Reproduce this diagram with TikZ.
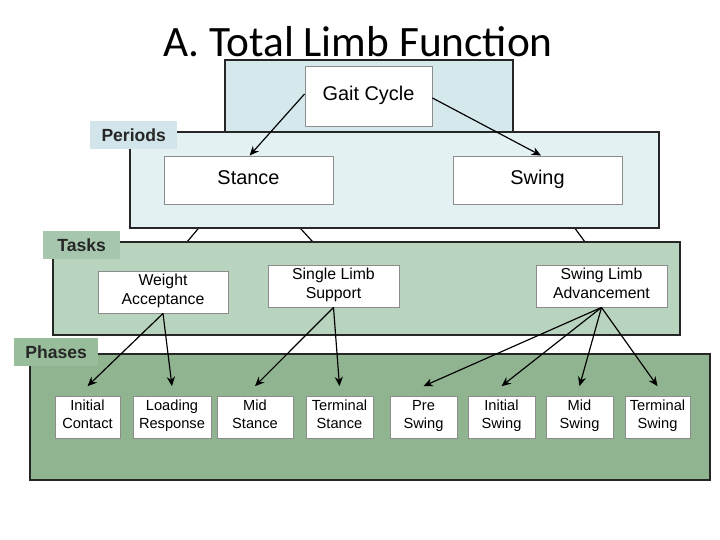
\documentclass[tikz,border=0pt]{standalone}
\usepackage{fontspec}
\setmainfont{Liberation Sans}
\newfontfamily\titlefont{Carlito}
\usetikzlibrary{arrows.meta}
\definecolor{topfill}{HTML}{D5E8EC}
\definecolor{perfill}{HTML}{E3F1F3}
\definecolor{perlab}{HTML}{D2E5EB}
\definecolor{taskfill}{HTML}{B8D3BE}
\definecolor{tasklab}{HTML}{A6C7AE}
\definecolor{phasefill}{HTML}{8FB48F}
\definecolor{phaselab}{HTML}{98BD9A}
\begin{document}
\begin{tikzpicture}[x=0.03cm,y=-0.03cm,
  panel/.style={draw=black!85,line width=1.6pt},
  tag/.style={font=\fontsize{15}{15}\selectfont\bfseries,text=black!85,inner sep=3pt,anchor=west},
  box/.style={draw=black!45,fill=white,line width=0.8pt,align=center,inner sep=0pt},
  two/.style={execute at begin node=\strut,execute at end node=\strut},
  big/.style={box,font=\fontsize{17}{17}\selectfont,text height=12pt,text depth=4pt},
  mid/.style={box,two,font=\fontsize{13.5}{16}\selectfont},
  small/.style={box,two,font=\fontsize{12.5}{15}\selectfont,minimum height=42*0.03cm},
  arr/.style={-{Stealth[length=8pt,width=7pt]},line width=1pt}]
\useasboundingbox (0,0) rectangle (720,540);
\node[font=\titlefont\fontsize{37}{37}\selectfont] (title) at (358,42) {A. Total Limb Function};
% nodes defined first (as placeholders for lines drawn under the panels)
\path
 (368.5,96) node[big,minimum width=127*0.03cm,minimum height=60*0.03cm] (gc) {}
 (248.5,180) node[big,minimum width=169*0.03cm,minimum height=48*0.03cm] (st) {}
 (537.5,180) node[big,minimum width=169*0.03cm,minimum height=48*0.03cm] (sw) {}
 (163,292) node[mid,minimum width=130*0.03cm,minimum height=42*0.03cm] (wa) {}
 (333.5,286) node[mid,minimum width=131*0.03cm,minimum height=42*0.03cm] (sls) {}
 (601.5,286) node[mid,minimum width=131*0.03cm,minimum height=42*0.03cm] (sla) {};
% hidden links between periods and tasks
\draw[line width=1pt] (st.south) ++(-30,0) coordinate (a1) -- (wa.north);
\draw[line width=1pt] (st.south) ++(30,0) coordinate (a2) -- (sls.north);
\draw[line width=1pt] (sw.south) ++(20,0) coordinate (a3) -- (sla.north);
% panels
\draw[panel,fill=phasefill] (30,354) rectangle (710,480);
\draw[panel,fill=taskfill] (53,242) rectangle (680,335);
\draw[panel,fill=perfill] (130,132) rectangle (659,228);
\draw[panel,fill=topfill] (225,60) rectangle (513,132);
\node[tag,fill=perlab,minimum width=87*0.03cm,minimum height=28*0.03cm] (lper) at (90,135) {Periods};
\node[tag,fill=tasklab,minimum width=77*0.03cm,minimum height=28*0.03cm] (ltask) at (43,245) {Tasks};
\node[tag,fill=phaselab,minimum width=84*0.03cm,minimum height=28*0.03cm] (lphase) at (14,352) {Phases};
% boxes
\node[big,minimum width=127*0.03cm,minimum height=60*0.03cm] at (gc) {Gait Cycle};
\node[big,minimum width=169*0.03cm,minimum height=48*0.03cm] at (st) {Stance};
\node[big,minimum width=169*0.03cm,minimum height=48*0.03cm] at (sw) {Swing};
\node[mid,minimum width=130*0.03cm,minimum height=42*0.03cm] at (wa) {Weight\\Acceptance};
\node[mid,minimum width=131*0.03cm,minimum height=42*0.03cm] at (sls) {Single Limb\\Support};
\node[mid,minimum width=131*0.03cm,minimum height=42*0.03cm] at (sla) {Swing Limb\\Advancement};
\node[small,minimum width=65*0.03cm] (ic) at (87.5,417) {Initial\\Contact};
\node[small,minimum width=78*0.03cm] (lr) at (172,417) {Loading\\Response};
\node[small,minimum width=76*0.03cm] (ms) at (255,417) {Mid\\Stance};
\node[small,minimum width=67*0.03cm] (ts) at (339.5,417) {Terminal\\Stance};
\node[small,minimum width=67*0.03cm] (ps) at (423.5,417) {Pre\\Swing};
\node[small,minimum width=67*0.03cm] (is) at (501.5,417) {Initial\\Swing};
\node[small,minimum width=67*0.03cm] (mw) at (579.5,417) {Mid\\Swing};
\node[small,minimum width=65*0.03cm] (tw) at (657.5,417) {Terminal\\Swing};
% arrows
\draw[arr] (gc.west) ++(0,-2) -- ([xshift=1pt]st.north);
\draw[arr] (gc.east) ++(0,2) -- ([xshift=3pt]sw.north);
\draw[arr] (wa.south) -- ([yshift=8]ic.north);
\draw[arr] (wa.south) -- ([yshift=8]lr.north);
\draw[arr] (sls.south) -- ([yshift=8]ms.north);
\draw[arr] (sls.south) -- ([yshift=8]ts.north);
\draw[arr] (sla.south) -- ([yshift=8]ps.north);
\draw[arr] (sla.south) -- ([yshift=8]is.north);
\draw[arr] (sla.south) -- ([yshift=8]mw.north);
\draw[arr] (sla.south) -- ([yshift=8]tw.north);
\end{tikzpicture}
\end{document}
